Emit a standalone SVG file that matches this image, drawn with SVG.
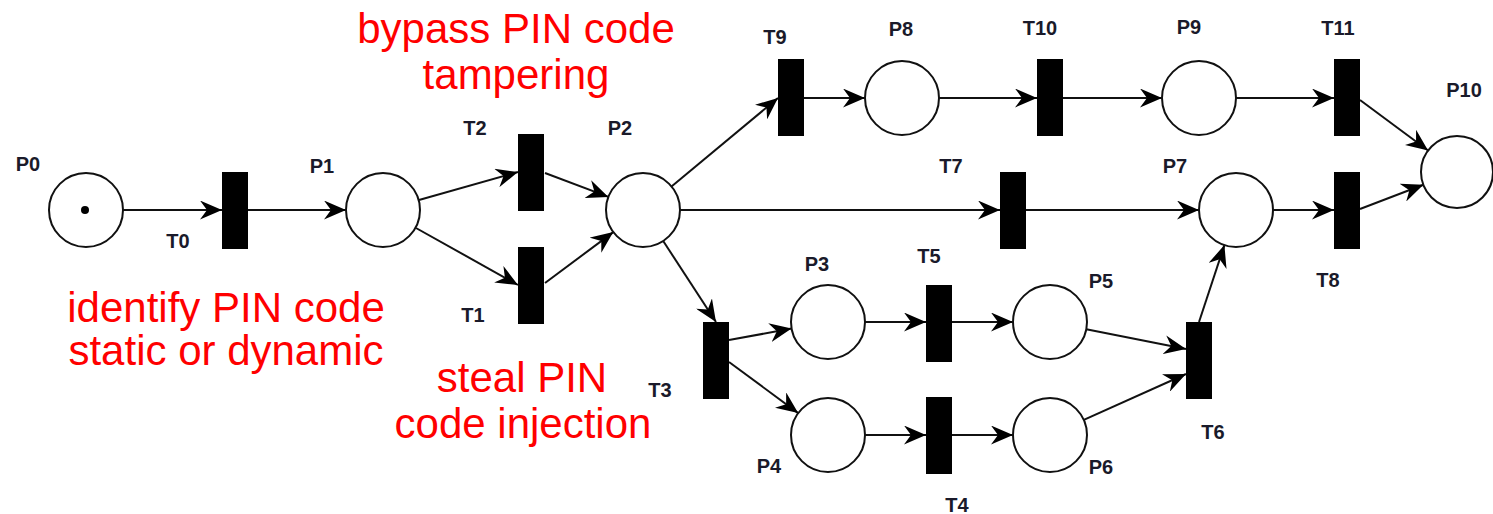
<svg xmlns="http://www.w3.org/2000/svg" width="1493" height="514" viewBox="0 0 1493 514">
<style>
.pl{fill:#fff;stroke:#111;stroke-width:2}
.tr{fill:#000}
.lb{font-family:"Liberation Sans",Arial,sans-serif;font-weight:bold;font-size:20px;fill:#1a1a2a;text-anchor:middle}
.rt{font-family:"Liberation Sans",Arial,sans-serif;font-size:42px;fill:#ff0000;text-anchor:middle}
.ed line{stroke:#111;stroke-width:2;marker-end:url(#arr)}
</style>
<defs>
<marker id="arr" viewBox="0 0 22 19" refX="22" refY="9.5" markerWidth="22" markerHeight="19" orient="auto" markerUnits="userSpaceOnUse">
<path d="M0,0 L22,9.5 L0,19 L7,9.5 Z" fill="#000"/>
</marker>
</defs>
<rect width="1493" height="514" fill="#fff"/>
<g id="connectors" class="ed">
<line x1="123" y1="210" x2="222" y2="210"/>
<line x1="248" y1="210" x2="346" y2="210"/>
<line x1="419" y1="200" x2="518" y2="172"/>
<line x1="416" y1="228" x2="518" y2="285"/>
<line x1="545" y1="173" x2="608.4" y2="196.9"/>
<line x1="545" y1="283" x2="613.3" y2="232.1"/>
<line x1="671.5" y1="186.4" x2="778" y2="98"/>
<line x1="680" y1="210" x2="1000" y2="210"/>
<line x1="663.2" y1="241" x2="716" y2="322"/>
<line x1="729" y1="340" x2="791.6" y2="328.6"/>
<line x1="729" y1="362" x2="798.2" y2="413.1"/>
<line x1="865" y1="322" x2="926" y2="322"/>
<line x1="952" y1="322" x2="1013" y2="322"/>
<line x1="865" y1="435" x2="926" y2="435"/>
<line x1="952" y1="435" x2="1013" y2="435"/>
<line x1="1086.3" y1="329.2" x2="1186" y2="349"/>
<line x1="1083.8" y1="419.9" x2="1186" y2="374"/>
<line x1="1199" y1="322" x2="1224.4" y2="245.1"/>
<line x1="1026" y1="210" x2="1199" y2="210"/>
<line x1="1273" y1="210" x2="1334" y2="210"/>
<line x1="804" y1="98" x2="865" y2="98"/>
<line x1="939" y1="98" x2="1037" y2="98"/>
<line x1="1063" y1="98" x2="1162" y2="98"/>
<line x1="1236" y1="98" x2="1334" y2="98"/>
<line x1="1360" y1="100" x2="1428.1" y2="150.5"/>
<line x1="1360" y1="209" x2="1423.4" y2="184.8"/>
</g>
<g id="P0"><circle class="pl" cx="86" cy="210" r="37"/><circle cx="85" cy="210" r="4" fill="#000"/><text class="lb" x="28" y="171">P0</text></g>
<g id="P1"><circle class="pl" cx="383" cy="210" r="37"/><text class="lb" x="322" y="173">P1</text></g>
<g id="P2"><circle class="pl" cx="643" cy="210" r="37"/><text class="lb" x="620" y="135">P2</text></g>
<g id="P3"><circle class="pl" cx="828" cy="322" r="37"/><text class="lb" x="817" y="271">P3</text></g>
<g id="P4"><circle class="pl" cx="828" cy="435" r="37"/><text class="lb" x="769" y="473">P4</text></g>
<g id="P5"><circle class="pl" cx="1050" cy="322" r="37"/><text class="lb" x="1101" y="288">P5</text></g>
<g id="P6"><circle class="pl" cx="1050" cy="435" r="37"/><text class="lb" x="1101" y="474">P6</text></g>
<g id="P7"><circle class="pl" cx="1236" cy="210" r="37"/><text class="lb" x="1175" y="173">P7</text></g>
<g id="P8"><circle class="pl" cx="902" cy="98" r="37"/><text class="lb" x="901" y="36">P8</text></g>
<g id="P9"><circle class="pl" cx="1199" cy="98" r="37"/><text class="lb" x="1189" y="34">P9</text></g>
<g id="P10"><circle class="pl" cx="1457" cy="172" r="36"/><text class="lb" x="1464" y="97">P10</text></g>
<g id="T0"><rect class="tr" x="222" y="172" width="26" height="77"/><text class="lb" x="178" y="248">T0</text></g>
<g id="T1"><rect class="tr" x="518" y="247" width="26" height="77"/><text class="lb" x="473" y="322">T1</text></g>
<g id="T2"><rect class="tr" x="518" y="134" width="26" height="77"/><text class="lb" x="475" y="135">T2</text></g>
<g id="T3"><rect class="tr" x="703" y="322" width="26" height="77"/><text class="lb" x="660" y="397">T3</text></g>
<g id="T4"><rect class="tr" x="926" y="397" width="26" height="77"/><text class="lb" x="957" y="512">T4</text></g>
<g id="T5"><rect class="tr" x="926" y="285" width="26" height="77"/><text class="lb" x="929" y="263">T5</text></g>
<g id="T6"><rect class="tr" x="1186" y="322" width="26" height="77"/><text class="lb" x="1213" y="439">T6</text></g>
<g id="T7"><rect class="tr" x="1000" y="172" width="26" height="77"/><text class="lb" x="951" y="173">T7</text></g>
<g id="T8"><rect class="tr" x="1334" y="172" width="26" height="77"/><text class="lb" x="1328" y="287">T8</text></g>
<g id="T9"><rect class="tr" x="778" y="59" width="26" height="77"/><text class="lb" x="775" y="44">T9</text></g>
<g id="T10"><rect class="tr" x="1037" y="59" width="26" height="77"/><text class="lb" x="1040" y="35">T10</text></g>
<g id="T11"><rect class="tr" x="1334" y="59" width="26" height="77"/><text class="lb" x="1338" y="35">T11</text></g>
<g id="annotations">
<text class="rt" x="516" y="43">bypass PIN code</text>
<text class="rt" x="516" y="89">tampering</text>
<text class="rt" x="226" y="322">identify PIN code</text>
<text class="rt" x="226" y="365">static or dynamic</text>
<text class="rt" x="522" y="392">steal PIN</text>
<text class="rt" x="523" y="438">code injection</text>
</g>
</svg>
